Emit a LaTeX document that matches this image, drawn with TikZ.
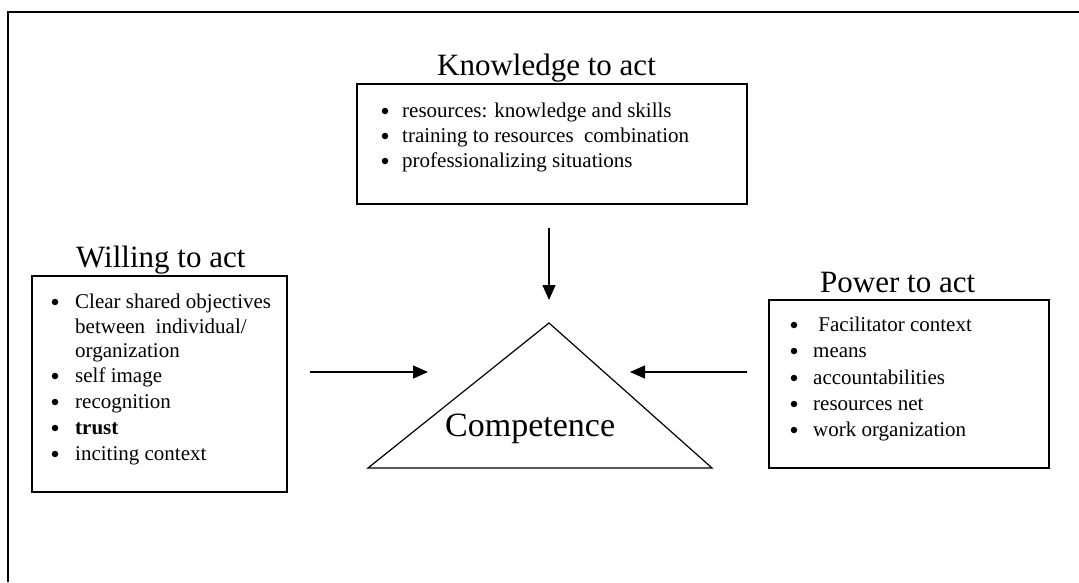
\documentclass[tikz,border=0pt]{standalone}
\usepackage{fontspec}
\setmainfont{Liberation Serif}
\usetikzlibrary{arrows.meta}

\tikzset{
  box/.style={draw, line width=1.2pt, inner sep=0pt},
  title/.style={anchor=base west, inner sep=0pt, font=\fontsize{31}{36}\selectfont},
  item/.style={anchor=base west, inner sep=0pt, font=\fontsize{21}{25}\selectfont},
  dot/.style={circle, fill, inner sep=0pt, minimum size=6.5pt},
  arr/.style={-{Triangle[length=15pt,width=13pt]}, line width=1.3pt},
}

\begin{document}
\begin{tikzpicture}[x=1pt,y=-1pt]
    \useasboundingbox (0,0) rectangle (1079,582);
    % frame: top and left side only
    \draw[line width=1.5pt] (8,582) -- (8,12) -- (1079,12);

    % knowledge to act
    \node[box, minimum width=390pt, minimum height=120pt] (know) at (552,144) {};
    \node[title] (know-t) at (437,75) {Knowledge to act};
    \foreach \y/\t [count=\i] in {117/resources: knowledge and skills,
        142/training to resources\ \ combination, 167/professionalizing situations}
    {
        \node[dot] (know-b\i) at (385,\y-6) {};
        \node[item] (know-i\i) at (402,\y) {\t};
    }

    % willing to act
    \node[box, minimum width=255pt, minimum height=216pt] (will) at (159.5,384) {};
    \node[title] (will-t) at (76,267) {Willing to act};
    \foreach \y/\t [count=\i] in {308/Clear shared objectives, 382/self image,
        408/recognition, 434/\textbf{trust}, 460/inciting context}
    {
        \node[dot] (will-b\i) at (55,\y-6) {};
        \node[item] (will-i\i) at (75,\y) {\t};
    }
    \node[item] (will-c1) at (75,333) {between\ \ individual/};
    \node[item] (will-c2) at (75,357) {organization};

    % power to act
    \node[box, minimum width=280pt, minimum height=168pt] (power) at (909,384) {};
    \node[title] (power-t) at (820,292) {Power to act};
    \foreach \y/\t [count=\i] in {331/\ Facilitator context, 357/means,
        384/accountabilities, 410/resources net, 436/work organization}
    {
        \node[dot] (power-b\i) at (794,\y-6) {};
        \node[item] (power-i\i) at (813,\y) {\t};
    }

    % competence triangle
    \coordinate (comp-l) at (368,468);
    \coordinate (comp-t) at (549,323);
    \coordinate (comp-r) at (712,468);
    \draw[line width=1.2pt] (comp-l) -- (comp-t) -- (comp-r) -- cycle;
    \node[anchor=base west, inner sep=0pt, font=\fontsize{34}{40}\selectfont]
        (comp) at (445,436) {Competence};

    % arrows into the triangle
    \coordinate (know-out) at (549,228);
    \coordinate (comp-in1) at (549,300);
    \coordinate (will-out) at (310,372);
    \coordinate (comp-in2) at (428,372);
    \coordinate (power-out) at (747,372);
    \coordinate (comp-in3) at (630,372);
    \draw[arr] (know-out) -- (comp-in1);
    \draw[arr] (will-out) -- (comp-in2);
    \draw[arr] (power-out) -- (comp-in3);
\end{tikzpicture}
\end{document}
